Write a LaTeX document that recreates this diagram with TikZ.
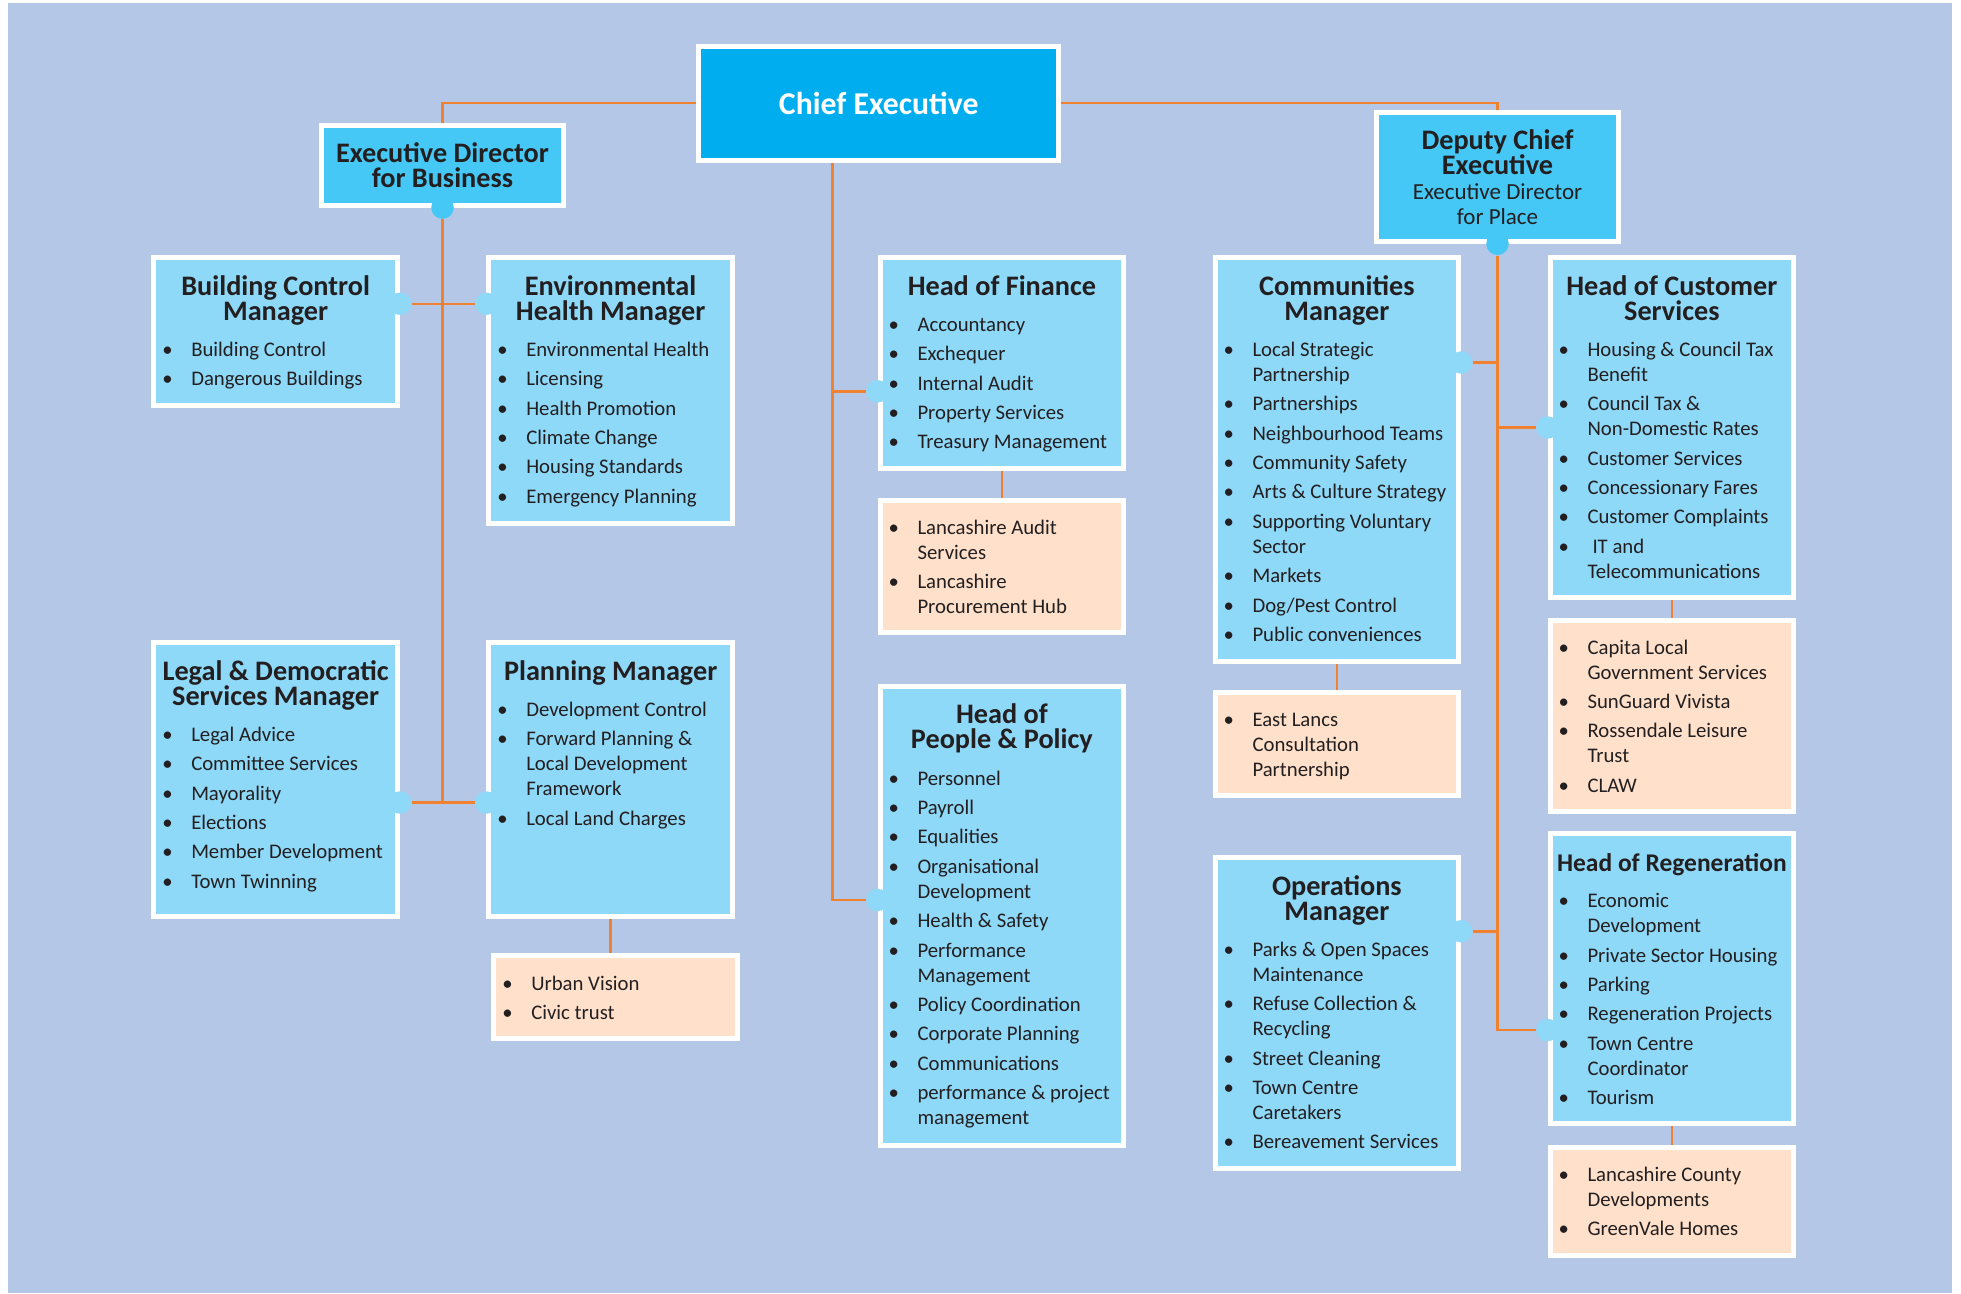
\documentclass[tikz,border=0pt]{standalone}
\usepackage{fontspec}
\setmainfont{Carlito}
\usepackage{tikz}
\usetikzlibrary{positioning}

\definecolor{bgblue}{HTML}{B4C7E7}
\definecolor{chiefblue}{HTML}{00AEEF}
\definecolor{dirblue}{HTML}{45C8F5}
\definecolor{unitblue}{HTML}{8ED8F8}
\definecolor{peach}{HTML}{FFE1CB}
\definecolor{linkorange}{HTML}{F0812F}
\definecolor{ink}{HTML}{231F20}

\newcommand{\titlefont}{\fontsize{11.3}{10}\selectfont\bfseries\lineskiplimit=-5pt}
\newcommand{\subfont}{\fontsize{9.2}{10}\selectfont\mdseries}
\newcommand{\chieffont}{\fontsize{12.7}{14}\selectfont\bfseries}
\newcommand{\listfont}{\fontsize{8.3}{10}\selectfont}
\newcommand{\heading}[1]{{\centering\titlefont\rule{0pt}{15pt}#1\par}}
\newcommand{\unitcard}[2]{\parbox[c][#1][t]{97.5pt}{\raggedright\listfont #2}}
\newenvironment{duties}[1][4.55pt]{\begin{list}{\textbullet}{%
  \setlength{\leftmargin}{15pt}\setlength{\labelwidth}{0pt}%
  \setlength{\labelsep}{9.5pt}\setlength{\itemsep}{1.75pt}%
  \setlength{\parsep}{0pt}\setlength{\topsep}{#1}\setlength{\partopsep}{0pt}%
  \def\makelabel##1{\makebox[0pt]{##1}}}}{\end{list}}

\tikzstyle{unit} = [draw=white,line width=2pt,fill=unitblue,inner sep=0pt,anchor=north west,text=ink]
\tikzstyle{partner} = [unit,fill=peach]
\tikzstyle{director} = [unit,fill=dirblue,minimum width=97pt,align=center,font=\titlefont]
\tikzstyle{chief} = [unit,fill=chiefblue,text=white,minimum width=144pt,minimum height=45.5pt,font=\chieffont]
\tikzstyle{knob} = [circle,fill=unitblue,inner sep=0pt,minimum size=9pt]
\tikzstyle{link} = [draw=linkorange,line width=1pt]

\begin{document}
\begin{tikzpicture}[x=0.5pt,y=-0.5pt]
	\useasboundingbox (0,0) rectangle (1568.8,1034.4);
	\fill[white] (0,0) rectangle (1568.8,1034.4);
	\fill[bgblue] (6.4,2.4) rectangle (1561.6,1034.4);

	%Top
	\node[chief] (chief) at (557,35) {Chief Executive};
	\node[director,minimum height=32pt] (execbus) at (255,98) {Executive Director\\for Business};
	\node[director,minimum height=51.5pt] (deputy) at (1099,88) {Deputy Chief\\Executive\\{\subfont Executive Director}\\{\subfont for Place}};

	%Business
	\node[unit] (bcm) at (121,204) {\unitcard{59pt}{\heading{Building Control\\Manager}
		\begin{duties}\item Building Control \item Dangerous Buildings\end{duties}}};
	\node[unit] (ehm) at (389,204) {\unitcard{106.5pt}{\heading{Environmental\\Health Manager}
		\begin{duties}\item Environmental Health \item Licensing \item Health Promotion
		\item Climate Change \item Housing Standards \item Emergency Planning\end{duties}}};
	\node[unit] (legal) at (121,512) {\unitcard{109.5pt}{\heading{Legal \& Democratic\\Services Manager}
		\begin{duties}\item Legal Advice \item Committee Services \item Mayorality
		\item Elections \item Member Development \item Town Twinning\end{duties}}};
	\node[unit] (plan) at (389,512) {\unitcard{109.5pt}{\heading{Planning Manager}
		\begin{duties}\item Development Control \item Forward Planning \&\\Local Development\\Framework
		\item Local Land Charges\end{duties}}};
	\node[partner,below=13.5pt of plan,xshift=2pt] (urban) {\unitcard{33.5pt}{
		\begin{duties}[0pt]\item\rule{0pt}{14pt}Urban Vision \item Civic trust\end{duties}}};

	%Centre
	\node[unit] (fin) at (702,204) {\unitcard{84.5pt}{\heading{Head of Finance}
		\begin{duties}\item Accountancy \item Exchequer \item Internal Audit
		\item Property Services \item Treasury Management\end{duties}}};
	\node[partner,below=10.5pt of fin] (audit) {\unitcard{53pt}{
		\begin{duties}[0pt]\item\rule{0pt}{13.6pt}Lancashire Audit\\Services \item Lancashire\\Procurement Hub\end{duties}}};
	\node[unit] (people) at (702,547) {\unitcard{183.5pt}{\heading{Head of\\People \& Policy}
		\begin{duties}\item Personnel \item Payroll \item Equalities \item Organisational\\Development
		\item Health \& Safety \item Performance\\Management \item Policy Coordination
		\item Corporate Planning \item Communications \item performance \& project\\management\end{duties}}};

	%Place
	\node[unit] (comms) at (970,204) {\unitcard{161.5pt}{\heading{Communities\\Manager}
		\begin{duties}\item Local Strategic\\Partnership \item Partnerships \item Neighbourhood Teams
		\item Community Safety \item Arts \& Culture Strategy \item Supporting Voluntary\\Sector
		\item Markets \item Dog/Pest Control \item Public conveniences\end{duties}}};
	\node[partner,below=10.5pt of comms] (eastlancs) {\unitcard{41pt}{
		\begin{duties}[0pt]\item\rule{0pt}{13.6pt}East Lancs\\Consultation\\Partnership\end{duties}}};
	\node[unit] (ops) at (970,684) {\unitcard{124.5pt}{\heading{Operations\\Manager}
		\begin{duties}\item Parks \& Open Spaces\\Maintenance \item Refuse Collection \&\\Recycling
		\item Street Cleaning \item Town Centre\\Caretakers \item Bereavement Services\end{duties}}};
	\node[unit] (cust) at (1238,204) {\unitcard{136pt}{\heading{Head of Customer\\Services}
		\begin{duties}\item Housing \& Council Tax\\Benefit \item Council Tax \&\\Non-Domestic Rates
		\item Customer Services \item Concessionary Fares \item Customer Complaints
		\item \hspace{2pt}IT and\\Telecommunications\end{duties}}};
	\node[partner,below=7pt of cust] (capita) {\unitcard{76.5pt}{
		\begin{duties}[0pt]\item\rule{0pt}{13.6pt}Capita Local\\Government Services \item SunGuard Vivista
		\item Rossendale Leisure\\Trust \item CLAW\end{duties}}};
	\node[unit] (regen) at (1238,665) {\unitcard{116pt}{{\centering\fontsize{10.2}{10}\selectfont\bfseries\rule{0pt}{15pt}Head of Regeneration\par}
		\begin{duties}\item Economic\\Development \item Private Sector Housing \item Parking
		\item Regeneration Projects \item Town Centre\\Coordinator \item Tourism\end{duties}}};
	\node[partner,below=7.5pt of regen] (lcounty) {\unitcard{43pt}{
		\begin{duties}[0pt]\item\rule{0pt}{13.6pt}Lancashire County\\Developments \item GreenVale Homes\end{duties}}};

	%Knobs
	\node[knob,fill=dirblue] (kbus) at (execbus.south) {};
	\node[knob,fill=dirblue] (kdep) at (deputy.south) {};
	\node[knob] (kbcm) at ([yshift=-19.5pt]bcm.north east) {};
	\node[knob] (kehm) at ([yshift=-19.5pt]ehm.north west) {};
	\node[knob] (klegal) at ([yshift=-65pt]legal.north east) {};
	\node[knob] (kplan) at ([yshift=-65pt]plan.north west) {};
	\node[knob] (kfin) at ([yshift=-54.5pt]fin.north west) {};
	\node[knob] (kpeople) at ([yshift=-86.5pt]people.north west) {};
	\node[knob] (kcomms) at ([yshift=-43pt]comms.north east) {};
	\node[knob] (kcust) at ([yshift=-69pt]cust.north west) {};
	\node[knob] (kops) at ([yshift=-30.5pt]ops.north east) {};
	\node[knob] (kregen) at ([yshift=-79.5pt]regen.north west) {};
	\coordinate (trunk) at ([xshift=54.5pt]chief.south west);

	%Lines
	\draw[link] (chief.west) -| (execbus.north);
	\draw[link] (chief.east) -| (deputy.north);
	\draw[link] (kbus) -- (kbus |- klegal);
	\draw[link] (kbcm) -- (kehm);
	\draw[link] (klegal) -- (kplan);
	\draw[link] (trunk) -- (trunk |- kpeople) -- (kpeople);
	\draw[link] (trunk |- kfin) -- (kfin);
	\draw[link] (kdep) -- (kdep |- kregen) -- (kregen);
	\draw[link] (kcomms) -- (kcomms -| kdep);
	\draw[link] (kops) -- (kops -| kdep);
	\draw[link] (kcust) -- (kcust -| kdep);
	\draw[link] (fin) -- (audit);
	\draw[link] (plan.south) -- (plan.south |- urban.north);
	\draw[link] (comms) -- (eastlancs);
	\draw[link] (cust) -- (capita);
	\draw[link] (regen) -- (lcounty);
\end{tikzpicture}
\end{document}
